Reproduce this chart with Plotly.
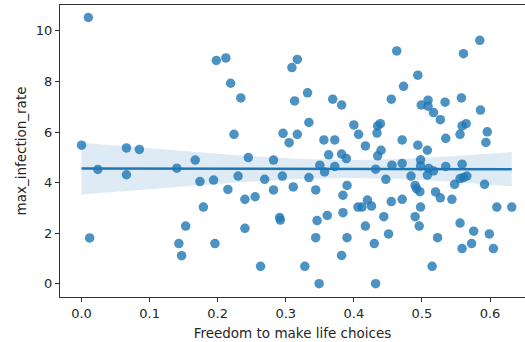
import numpy as np
import plotly.graph_objects as go

freedom = [
    0.010, 0.000, 0.066, 0.085, 0.024, 0.066, 0.012, 0.140, 0.167, 0.174,
    0.179, 0.153, 0.143, 0.147, 0.194, 0.245, 0.230, 0.215, 0.240, 0.255,
    0.269, 0.282, 0.282, 0.295, 0.311, 0.291, 0.292, 0.240, 0.196, 0.263,
    0.328, 0.349, 0.344, 0.346, 0.361, 0.382, 0.390, 0.384, 0.384, 0.390,
    0.406, 0.344, 0.334, 0.305, 0.350, 0.357, 0.372, 0.363, 0.382, 0.389,
    0.198, 0.212, 0.219, 0.234, 0.224, 0.317, 0.309, 0.332, 0.313, 0.369,
    0.382, 0.334, 0.296, 0.317, 0.356, 0.372, 0.400, 0.407,
    0.463, 0.585, 0.561, 0.494, 0.473, 0.455, 0.509, 0.499, 0.509, 0.517,
    0.534, 0.558, 0.586, 0.527, 0.439, 0.435, 0.434, 0.417, 0.440, 0.471,
    0.494, 0.508, 0.535, 0.556, 0.559, 0.565, 0.596, 0.594,
    0.435, 0.456, 0.471, 0.498, 0.498, 0.510, 0.517, 0.508, 0.535, 0.559,
    0.432, 0.447, 0.484, 0.490, 0.492, 0.497, 0.520, 0.527, 0.544, 0.548,
    0.556, 0.561, 0.566, 0.592, 0.610, 0.632, 0.420, 0.412, 0.426, 0.455,
    0.471, 0.498, 0.490, 0.496, 0.444, 0.417, 0.451, 0.430, 0.432, 0.523,
    0.515, 0.556, 0.576, 0.573, 0.559, 0.599, 0.605,
]
max_infection_rate = [
    10.53, 5.48, 5.37, 5.31, 4.52, 4.31, 1.81, 4.57, 4.89, 4.04,
    3.03, 2.28, 1.59, 1.11, 4.10, 4.99, 4.26, 3.73, 3.34, 3.44,
    4.13, 4.89, 3.71, 4.26, 3.83, 2.62, 2.52, 2.19, 1.59, 0.69,
    0.69, 0.00, 1.82, 2.50, 2.70, 1.12, 1.82, 2.81, 3.50, 3.89,
    3.03, 3.71, 4.20, 5.58, 4.69, 4.42, 4.64, 5.10, 5.13, 4.95,
    8.83, 8.93, 7.93, 7.35, 5.91, 8.87, 8.55, 7.55, 7.23, 7.30,
    7.07, 6.38, 5.95, 5.91, 5.69, 5.69, 6.28, 5.91,
    9.21, 9.63, 9.10, 8.25, 7.81, 7.30, 7.26, 7.07, 7.02, 6.77,
    7.18, 7.35, 6.87, 6.49, 6.33, 6.24, 5.96, 5.45, 5.28, 5.69,
    5.48, 5.28, 5.75, 5.91, 6.24, 6.33, 6.01, 5.59,
    5.06, 4.69, 4.76, 4.90, 4.66, 4.56, 4.46, 4.30, 4.64, 4.73,
    4.53, 4.13, 4.26, 3.89, 3.76, 3.64, 3.63, 3.40, 3.34, 3.93,
    4.16, 4.20, 4.26, 3.93, 3.03, 3.03, 3.31, 3.03, 3.07, 3.25,
    3.34, 3.03, 2.65, 2.28, 2.65, 2.28, 1.97, 1.59, 0.00, 1.82,
    0.69, 2.40, 2.08, 1.59, 1.39, 1.97, 1.39,
]
x_ticks = [0.0, 0.1, 0.2, 0.3, 0.4, 0.5, 0.6]
y_ticks = [0, 2, 4, 6, 8, 10]

x = np.array(freedom)
y = np.array(max_infection_rate)
n = len(x)
slope, intercept = np.polyfit(x, y, 1)
grid = np.linspace(x.min(), x.max(), 100)
fit = intercept + slope * grid
resid = y - (intercept + slope * x)
s = np.sqrt(np.sum(resid ** 2) / (n - 2))
sxx = np.sum((x - x.mean()) ** 2)
se = s * np.sqrt(1.0 / n + (grid - x.mean()) ** 2 / sxx)
tval = 1.977
upper = fit + tval * se
lower = fit - tval * se

C0 = "#1f77b4"
fig = go.Figure()
fig.add_trace(go.Scatter(
    x=x, y=y, mode="markers",
    marker=dict(color=C0, size=9.5, opacity=0.8, line=dict(width=0)),
    showlegend=False, hoverinfo="skip",
))
fig.add_trace(go.Scatter(x=grid, y=upper, mode="lines", line=dict(width=0),
                         showlegend=False, hoverinfo="skip"))
fig.add_trace(go.Scatter(x=grid, y=lower, mode="lines", line=dict(width=0),
                         fill="tonexty", fillcolor="rgba(31,119,180,0.15)",
                         showlegend=False, hoverinfo="skip"))
fig.add_trace(go.Scatter(x=grid, y=fit, mode="lines",
                         line=dict(color=C0, width=2.4),
                         showlegend=False, hoverinfo="skip"))

font = dict(family="DejaVu Sans", size=13, color="#262626")
fig.update_layout(
    width=525, height=342,
    margin=dict(l=60, r=0, t=5, b=45),
    paper_bgcolor="white", plot_bgcolor="white",
    font=font,
    xaxis=dict(
        range=[-0.0316, 0.6514], tickvals=x_ticks, tickformat=".1f",
        showgrid=False, zeroline=False, showline=True, mirror=True,
        linecolor="#333", linewidth=1, ticks="outside", ticklen=4,
        tickcolor="#333", title=dict(text="Freedom to make life choices",
                                     font=dict(size=13.5), standoff=8),
    ),
    yaxis=dict(
        range=[-0.525, 11.025], tickvals=y_ticks,
        showgrid=False, zeroline=False, showline=True, mirror=False,
        linecolor="#333", linewidth=1, ticks="outside", ticklen=4,
        tickcolor="#333", title=dict(text="max_infection_rate",
                                     font=dict(size=13.5), standoff=6),
    ),
)
fig.write_html("out.html")
